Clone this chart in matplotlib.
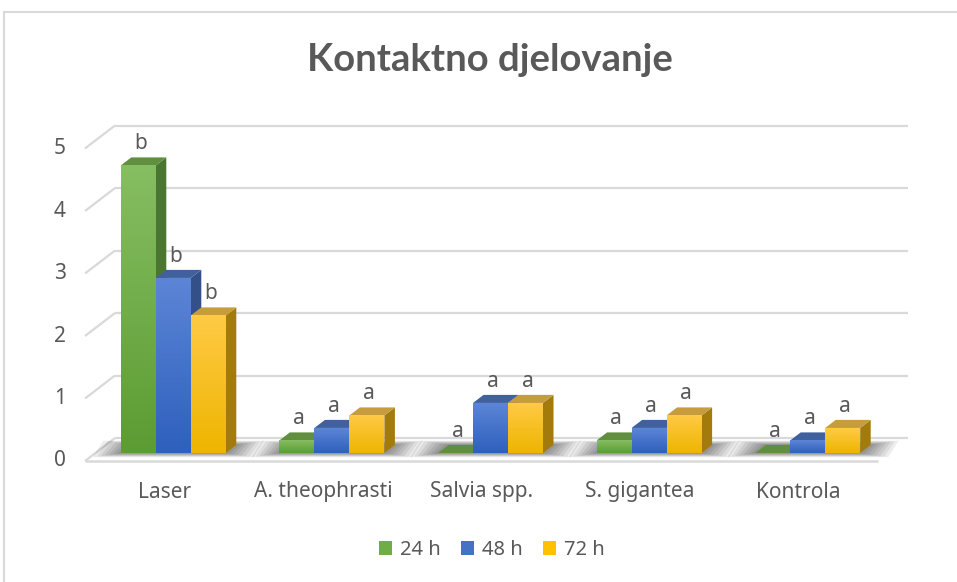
import numpy as np
import matplotlib.pyplot as plt
from matplotlib.patches import Polygon, Patch
from matplotlib.colors import LinearSegmentedColormap

categories = ['Laser', 'A. theophrasti', 'Salvia spp.', 'S. gigantea', 'Kontrola']
series = ['24 h', '48 h', '72 h']
v24 = [4.6, 0.2, 0.0, 0.2, 0.0]
v48 = [2.8, 0.4, 0.8, 0.4, 0.2]
v72 = [2.2, 0.6, 0.8, 0.6, 0.4]
letters24 = ['b', 'a', 'a', 'a', 'a']
letters48 = ['b', 'a', 'a', 'a', 'a']
letters72 = ['b', 'a', 'a', 'a', 'a']
yticks = [0, 1, 2, 3, 4, 5]

values = [v24, v48, v72]
letters = [letters24, letters48, letters72]

# front (top, bottom), top face, side face colours per series
colors = [
    dict(light='#86be62', dark='#5c9c33', top='#5f8f3f', side='#4b7631', leg='#70ad47'),
    dict(light='#5c85d6', dark='#2e60bd', top='#41619e', side='#33508b', leg='#4472c4'),
    dict(light='#ffca45', dark='#eeb500', top='#c69c3c', side='#a27b0c', leg='#ffc000'),
]
text_col = '#595959'
grid_col = '#d9d9d9'
font = 'Noto Sans'

W, H = 957, 582
fig = plt.figure(figsize=(W / 100, H / 100), dpi=100)
ax = fig.add_axes([0, 0, 1, 1])

# plot box: x 0..5 -> px 85..878, y 0..5 -> px 461..148.5
px_x = (878 - 85) / 5
px_y = (461 - 148.5) / 5
ax.set_xlim(-85 / px_x, (W - 85) / px_x)
ax.set_ylim(-(H - 461) / px_y, 461 / px_y)
ax.axis('off')

# depth of the 3d box
Dx, Dy = 30 / px_x, 23 / px_y
n = len(categories)

# walls and floor
for v in yticks:
    ax.plot([Dx, n + Dx], [v + Dy, v + Dy], color=grid_col, lw=1.6, solid_capstyle='butt', zorder=1)
    ax.plot([0, Dx], [v, v + Dy], color=grid_col, lw=1.6, solid_capstyle='butt', zorder=1)
    ax.text(-19 / px_x, v, str(v), ha='right', va='center', fontsize=15,
            color=text_col, family=font)
ax.plot([0, n], [0, 0], color=grid_col, lw=1.8, solid_capstyle='butt', zorder=1)

bw = 35 / px_x
d0, d1 = 0.35, 0.70
ddx, ddy = (d1 - d0) * Dx, (d1 - d0) * Dy
y0 = d0 * Dy
shift = 9 / px_x

# soft shadows on the floor
for i in range(n):
    gl = i + 0.5 + shift - 1.5 * bw
    gr = gl + 3 * bw
    for k in range(7):
        e = (7 - k) * 4 / px_x
        ey = (7 - k) * 0.6 / px_y
        ax.add_patch(Polygon([(gl - e, y0 - ey), (gr + e, y0 - ey),
                              (gr + ddx + e, y0 + ddy + ey), (gl + ddx - e, y0 + ddy + ey)],
                             closed=True, facecolor='black', edgecolor='none', alpha=0.07, zorder=2))

# bars
grad = np.linspace(0, 1, 100).reshape(-1, 1)
for i in range(n):
    for j in range(3):
        c = colors[j]
        h = values[j][i]
        xl = i + 0.5 + shift + (j - 1.5) * bw
        side = Polygon([(xl + bw, y0), (xl + bw, y0 + h), (xl + bw + ddx, y0 + h + ddy),
                        (xl + bw + ddx, y0 + ddy)], closed=True,
                       facecolor=c['side'], edgecolor='none', zorder=3)
        ax.add_patch(side)
        top = Polygon([(xl, y0 + h), (xl + bw, y0 + h), (xl + bw + ddx, y0 + h + ddy),
                       (xl + ddx, y0 + h + ddy)], closed=True,
                      facecolor=c['top'], edgecolor='none', zorder=3)
        ax.add_patch(top)
        if h > 0:
            bars = ax.bar(xl, h, bw, bottom=y0, align='edge', color=c['dark'], zorder=3)
            cmap = LinearSegmentedColormap.from_list('g', [c['dark'], c['light']])
            im = ax.imshow(grad, extent=[xl, xl + bw, y0, y0 + h], origin='lower',
                           cmap=cmap, aspect='auto', zorder=3)
            im.set_clip_path(bars[0])
        ax.annotate(letters[j][i], (xl + bw / 2, y0 + h + ddy),
                    xytext=(1.5, 6.0), textcoords='offset points', ha='center', va='baseline',
                    fontsize=15, color=text_col, family=font, zorder=5)

# category labels
for i, cat in enumerate(categories):
    ax.text(i + 0.5, -31 / px_y, cat, ha='center', va='center', fontsize=15,
            color=text_col, family=font)

ax.set_xlim(-85 / px_x, (W - 85) / px_x)
ax.set_ylim(-(H - 461) / px_y, 461 / px_y)

# title
fig.text(490 / W, 1 - 60 / H, 'Kontaktno djelovanje', ha='center', va='center',
         fontsize=27.5, fontweight='bold', color=text_col, family='Lato')

# legend
handles = [Patch(facecolor=colors[j]['leg'], edgecolor='none', label=series[j]) for j in range(3)]
leg = fig.legend(handles=handles, loc='center', bbox_to_anchor=(492 / W, 1 - 550 / H), ncol=3,
                 frameon=False, handlelength=0.65, handleheight=0.65, handletextpad=0.4,
                 columnspacing=1.0, prop={'family': font, 'size': 14.5})
for t in leg.get_texts():
    t.set_color(text_col)

# chart border
fig.add_artist(plt.Line2D([4 / W, 1], [1 - 12 / H, 1 - 12 / H], transform=fig.transFigure,
                          color=grid_col, lw=1.5))
fig.add_artist(plt.Line2D([4 / W, 4 / W], [0, 1 - 12 / H], transform=fig.transFigure,
                          color=grid_col, lw=1.5))

fig.savefig('out.png', dpi=100)
